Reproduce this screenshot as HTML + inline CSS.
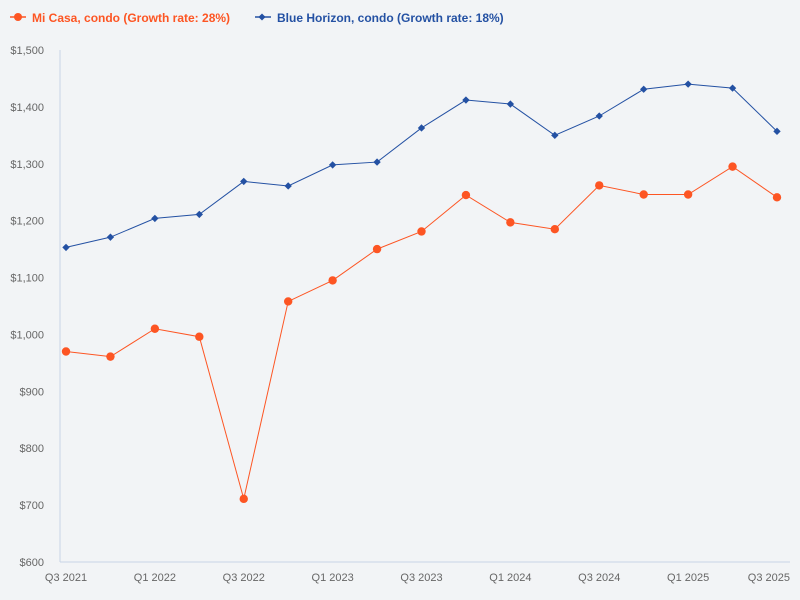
<!DOCTYPE html>
<html><head><meta charset="utf-8"><style>
body{margin:0;background:#f2f4f6;font-family:"Liberation Sans",sans-serif}
svg{display:block}
</style></head><body>
<svg id="chart" width="800" height="600">
<rect width="800" height="600" fill="#f2f4f6"/>
<g>
 <g>
  <line x1="10" y1="17" x2="26" y2="17" stroke="#fd5523" stroke-width="1.5"/>
  <circle cx="18" cy="17" r="4" fill="#fd5523"/>
  <text x="32" y="22" fill="#fd5523" font-size="12" font-weight="bold">Mi Casa, condo (Growth rate: 28%)</text>
 </g>
 <g>
  <line x1="255" y1="17" x2="271" y2="17" stroke="#2451a3" stroke-width="1.5"/>
  <rect x="259.5" y="14.5" width="5" height="5" transform="rotate(45 262 17)" fill="#2451a3"/>
  <text x="277" y="22" fill="#2451a3" font-size="12" font-weight="bold">Blue Horizon, condo (Growth rate: 18%)</text>
 </g>
</g>
<g id="axes"></g>
<g id="series"></g>
</svg>
<script>
const categories=["Q3 2021","Q4 2021","Q1 2022","Q2 2022","Q3 2022","Q4 2022","Q1 2023","Q2 2023","Q3 2023","Q4 2023","Q1 2024","Q2 2024","Q3 2024","Q4 2024","Q1 2025","Q2 2025","Q3 2025"];
const miCasa=[970,961,1010,996,711,1058,1095,1150,1181,1245,1197,1185,1262,1246,1246,1295,1241];
const blueHorizon=[1153,1171,1204,1211,1269,1261,1298,1303,1363,1412,1405,1350,1384,1431,1440,1433,1357];
const yTicks=[600,700,800,900,1000,1100,1200,1300,1400,1500];
const NS="http://www.w3.org/2000/svg";
const x=i=>66+i*(777-66)/(categories.length-1);
const y=v=>562-(v-600)*(512/900);
function mk(tag,attrs,parent,txt){const e=document.createElementNS(NS,tag);for(const k in attrs)e.setAttribute(k,attrs[k]);if(txt!==undefined)e.textContent=txt;parent.appendChild(e);return e;}
const axes=document.getElementById('axes'),series=document.getElementById('series');
let a=mk('line',{x1:60,y1:50,x2:60,y2:562,stroke:'#c8d4e6'},axes);


a=mk('line',{x1:60,y1:562,x2:790,y2:562,stroke:'#c8d4e6'},axes);


yTicks.forEach(v=>{const t=mk('text',{x:44,y:y(v)+4,'text-anchor':'end','font-size':11,fill:'#666'},axes,'$'+v.toLocaleString('en-US'));

});
categories.forEach((c,i)=>{if(i%2)return;const last=i===categories.length-1;
const t=mk('text',{x:last?790:x(i),y:581,'text-anchor':last?'end':'middle','font-size':11,fill:'#666'},axes,c);

});
function draw(data,color,name,marker){
 const g=mk('g',{},series);
 
 
 const p=mk('polyline',{points:data.map((v,i)=>x(i)+','+y(v)).join(' '),fill:'none',stroke:color,'stroke-width':1},g);
 
 
 data.forEach((v,i)=>{let m;
  if(marker==='circle')m=mk('circle',{cx:x(i),cy:y(v),r:4.2,fill:color},g);
  else m=mk('rect',{x:x(i)-2.6,y:y(v)-2.6,width:5.2,height:5.2,fill:color,transform:`rotate(45 ${x(i)} ${y(v)})`},g);
  
  });
}
draw(blueHorizon,'#2451a3','blue-horizon','diamond');
draw(miCasa,'#fd5523','mi-casa','circle');
</script>
</body></html>
